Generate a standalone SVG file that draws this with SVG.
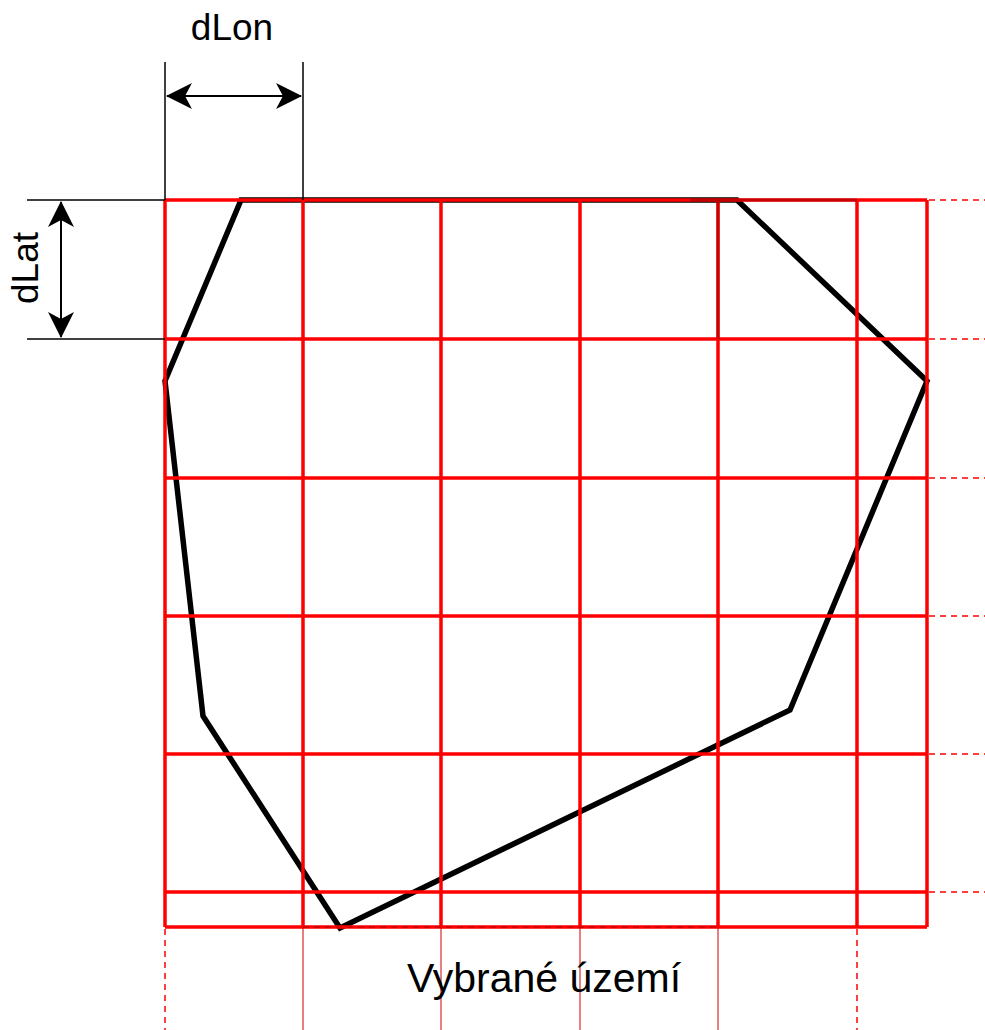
<svg xmlns="http://www.w3.org/2000/svg" width="985" height="1030" viewBox="0 0 985 1030">
<style>
.grid{stroke:#ff0000;stroke-width:3.5;fill:none}
.ext{stroke:#ff0000;stroke-width:1.5;stroke-dasharray:6 5;fill:none}
.thin{stroke:#d00000;stroke-width:1;fill:none}
.dim{stroke:#000;stroke-width:1.5;fill:none}
.arr{stroke:#000;stroke-width:2;fill:none}
.poly{stroke:#000;stroke-width:5.5;fill:none;stroke-linejoin:miter}
.lbl{font-family:"Liberation Sans",Arial,Helvetica,sans-serif;fill:#000;text-anchor:middle}
</style>
<defs>
<marker id="ah" viewBox="0 0 26 26" refX="25" refY="13" markerWidth="26" markerHeight="26" markerUnits="userSpaceOnUse" orient="auto-start-reverse">
<path d="M0,0 L26,13 L0,26 L7,13 Z" fill="#000"/>
</marker>
</defs>
<rect width="985" height="1030" fill="#fff"/>
<g id="area">
<polygon class="poly" points="241,200 737,200 927,381 790,710 340,928 203,716 165,381"/>
</g>
<g id="grid">
<line class="grid" x1="165" y1="200" x2="927" y2="200"/>
<line class="grid" x1="165" y1="339" x2="927" y2="339"/>
<line class="grid" x1="165" y1="478" x2="927" y2="478"/>
<line class="grid" x1="165" y1="616" x2="927" y2="616"/>
<line class="grid" x1="165" y1="754" x2="927" y2="754"/>
<line class="grid" x1="165" y1="892" x2="927" y2="892"/>
<line class="grid" x1="165" y1="927" x2="927" y2="927"/>
<line class="grid" x1="165" y1="200" x2="165" y2="927"/>
<line class="grid" x1="303" y1="200" x2="303" y2="927"/>
<line class="grid" x1="441" y1="200" x2="441" y2="927"/>
<line class="grid" x1="580" y1="200" x2="580" y2="927"/>
<line class="grid" x1="718" y1="200" x2="718" y2="927"/>
<line class="grid" x1="857" y1="200" x2="857" y2="927"/>
<line class="grid" x1="927" y1="200" x2="927" y2="927"/>
<line x1="718" y1="200" x2="718" y2="339" stroke="#700000" stroke-width="3.5" opacity="0.35"/>
<line x1="690" y1="200" x2="857" y2="200" stroke="#700000" stroke-width="3.5" opacity="0.35"/>
<line x1="303" y1="927" x2="718" y2="927" stroke="#600000" stroke-width="1" stroke-dasharray="6 5" opacity="0.5"/>
</g>
<g id="extensions">
<line class="ext" x1="929" y1="200" x2="985" y2="200"/>
<line class="ext" x1="929" y1="339" x2="985" y2="339"/>
<line class="ext" x1="929" y1="478" x2="985" y2="478"/>
<line class="ext" x1="929" y1="616" x2="985" y2="616"/>
<line class="ext" x1="929" y1="754" x2="985" y2="754"/>
<line class="ext" x1="929" y1="892" x2="985" y2="892"/>
<line class="ext" x1="165" y1="929" x2="165" y2="1030"/>
<line class="ext" x1="857" y1="929" x2="857" y2="1030"/>
<line class="thin" x1="303" y1="928" x2="303" y2="1030"/>
<line class="thin" x1="441" y1="928" x2="441" y2="1030"/>
<line class="thin" x1="580" y1="928" x2="580" y2="1030"/>
<line class="thin" x1="718" y1="928" x2="718" y2="1030"/>
</g>
<g id="dLon">
<line class="dim" x1="165" y1="62" x2="165" y2="200"/>
<line class="dim" x1="303" y1="62" x2="303" y2="200"/>
<line class="arr" x1="167" y1="96" x2="301" y2="96" marker-start="url(#ah)" marker-end="url(#ah)"/>
<text class="lbl" x="232" y="40" font-size="37">dLon</text>
</g>
<g id="dLat">
<line class="dim" x1="27" y1="200" x2="165" y2="200"/>
<line class="dim" x1="27" y1="339" x2="165" y2="339"/>
<line class="arr" x1="61" y1="202" x2="61" y2="337" marker-start="url(#ah)" marker-end="url(#ah)"/>
<text class="lbl" x="0" y="0" font-size="37" transform="translate(38,268) rotate(-90)">dLat</text>
</g>
<g id="label">
<text class="lbl" x="544" y="992" font-size="41">Vybrané území</text>
</g>
</svg>
